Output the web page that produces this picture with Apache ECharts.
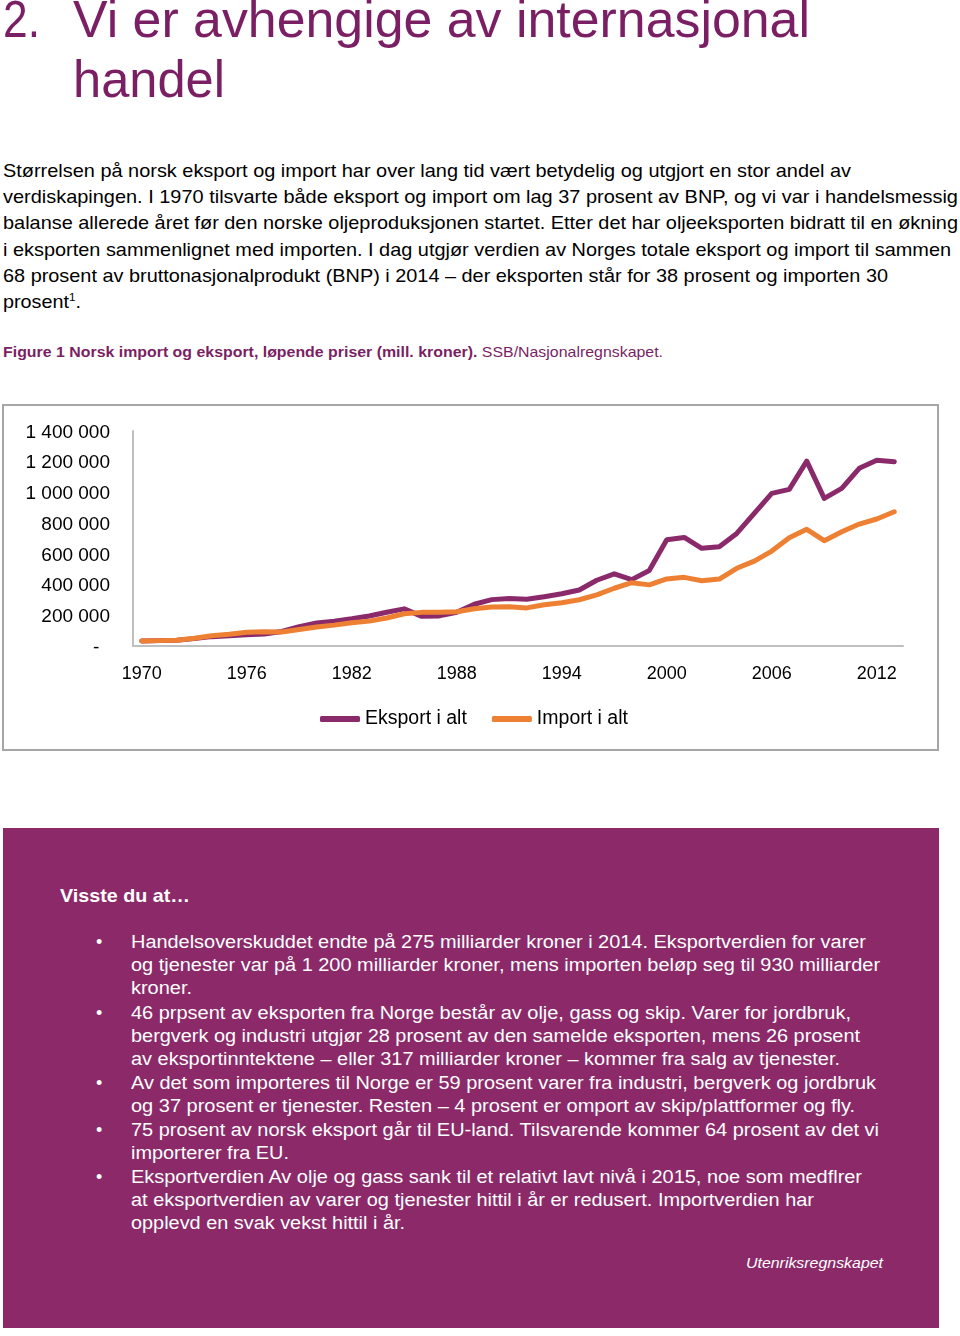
<!DOCTYPE html>
<html>
<head>
<meta charset="utf-8">
<script src="https://cdn.jsdelivr.net/npm/echarts@6/dist/echarts.min.js"></script>
<style>
  html, body { margin:0; padding:0; background:#fff; }
  body { width:960px; height:1336px; position:relative; overflow:hidden; font-family:"Liberation Sans", Arial, sans-serif; }
  .t { position:absolute; white-space:nowrap; line-height:1.15; transform-origin:0 50%; display:inline-block; }
  #box { position:absolute; left:3px; top:828px; width:936px; height:500px; background:#8c2a69; }
  #chart { position:absolute; left:0; top:400px; width:960px; height:360px; }
</style>
</head>
<body>
<div id="box"></div>
<div id="chart"></div>
<div id="texts"></div>
<script>
// ---------- data ----------
var years = ['1970','1971','1972','1973','1974','1975','1976','1977','1978','1979',
             '1980','1981','1982','1983','1984','1985','1986','1987','1988','1989',
             '1990','1991','1992','1993','1994','1995','1996','1997','1998','1999',
             '2000','2001','2002','2003','2004','2005','2006','2007','2008','2009',
             '2010','2011','2012','2013'];
var eksport = [33000, 35000, 38000, 48000, 61000, 67000, 74000, 78000, 95000, 126000,
               150000, 162000, 177000, 195000, 220000, 242000, 193000, 196000, 220000, 272000,
               302000, 310000, 304000, 321000, 340000, 365000, 428000, 470000, 432000, 492000,
               692000, 707000, 636000, 646000, 733000, 864000, 994000, 1020000, 1204000, 961000,
               1026000, 1157000, 1209000, 1200000];
var importAlt = [33000, 35000, 38000, 50000, 67000, 76000, 89000, 92000, 91000, 108000,
                 124000, 136000, 152000, 162000, 182000, 210000, 219000, 220000, 223000, 243000,
                 254000, 255000, 248000, 269000, 282000, 301000, 333000, 376000, 412000, 398000,
                 437000, 447000, 425000, 436000, 506000, 553000, 618000, 705000, 760000, 686000,
                 744000, 794000, 827000, 874000];
var seriesNames = ['Eksport i alt', 'Import i alt'];
var yMin = 0, yMax = 1400000, yStep = 200000;

// ---------- page text ----------
var purple = '#7a1f63';
var lines = [
  // [html, x, centerY, fontSize, targetWidth, color, weight, style]
  ['2.', 3, 19, 52, 37, purple, 'normal', 'normal'],
  ['Vi er avhengige av internasjonal', 73, 19, 52, 737, purple, 'normal', 'normal'],
  ['handel', 73, 79, 52, 152, purple, 'normal', 'normal'],
  ['Størrelsen på norsk eksport og import har over lang tid vært betydelig og utgjort en stor andel av', 3, 170.5, 18.6, 848, '#000', 'normal', 'normal'],
  ['verdiskapingen. I 1970 tilsvarte både eksport og import om lag 37 prosent av BNP, og vi var i handelsmessig', 3, 196.5, 18.6, 955, '#000', 'normal', 'normal'],
  ['balanse allerede året før den norske oljeproduksjonen startet. Etter det har oljeeksporten bidratt til en økning', 3, 222.5, 18.6, 955, '#000', 'normal', 'normal'],
  ['i eksporten sammenlignet med importen. I dag utgjør verdien av Norges totale eksport og import til sammen', 3, 249, 18.6, 948, '#000', 'normal', 'normal'],
  ['68 prosent av bruttonasjonalprodukt (BNP) i 2014 – der eksporten står for 38 prosent og importen 30', 3, 275, 18.6, 885, '#000', 'normal', 'normal'],
  ['prosent<sup style="font-size:11px;vertical-align:7px;line-height:0">1</sup>.', 3, 301, 18.6, 78, '#000', 'normal', 'normal'],
  ['<b>Figure 1 Norsk import og eksport, løpende priser (mill. kroner).</b> SSB/Nasjonalregnskapet.', 3, 351, 15, 660, purple, 'normal', 'normal'],
  ['Visste du at…', 60, 895, 18.5, 130, '#fff', 'bold', 'normal'],
  ['Handelsoverskuddet endte på 275 milliarder kroner i 2014. Eksportverdien for varer', 131, 942, 18, 735, '#fff', 'normal', 'normal'],
  ['og tjenester var på 1 200 milliarder kroner, mens importen beløp seg til 930 milliarder', 131, 965, 18, 749, '#fff', 'normal', 'normal'],
  ['kroner.', 131, 988, 18, 61, '#fff', 'normal', 'normal'],
  ['46 prpsent av eksporten fra Norge består av olje, gass og skip. Varer for jordbruk,', 131, 1013, 18, 720, '#fff', 'normal', 'normal'],
  ['bergverk og industri utgjør 28 prosent av den samelde eksporten, mens 26 prosent', 131, 1036, 18, 729, '#fff', 'normal', 'normal'],
  ['av eksportinntektene – eller 317 milliarder kroner – kommer fra salg av tjenester.', 131, 1059, 18, 709, '#fff', 'normal', 'normal'],
  ['Av det som importeres til Norge er 59 prosent varer fra industri, bergverk og jordbruk', 131, 1083, 18, 745, '#fff', 'normal', 'normal'],
  ['og 37 prosent er tjenester. Resten – 4 prosent er omport av skip/plattformer og fly.', 131, 1106, 18, 724, '#fff', 'normal', 'normal'],
  ['75 prosent av norsk eksport går til EU-land. Tilsvarende kommer 64 prosent av det vi', 131, 1130, 18, 748, '#fff', 'normal', 'normal'],
  ['importerer fra EU.', 131, 1153, 18, 158, '#fff', 'normal', 'normal'],
  ['Eksportverdien Av olje og gass sank til et relativt lavt nivå i 2015, noe som medflrer', 131, 1177, 18, 731, '#fff', 'normal', 'normal'],
  ['at eksportverdien av varer og tjenester hittil i år er redusert. Importverdien har', 131, 1200, 18, 683, '#fff', 'normal', 'normal'],
  ['opplevd en svak vekst hittil i år.', 131, 1223, 18, 274, '#fff', 'normal', 'normal'],
  ['Utenriksregnskapet', 746, 1262, 15, 137, '#fff', 'normal', 'italic']
];
var bulletYs = [942, 1013, 1083, 1130, 1177];

var holder = document.getElementById('texts');
function addText(html, x, cy, fs, tw, color, weight, fstyle) {
  var d = document.createElement('div');
  d.className = 't';
  d.innerHTML = html;
  d.style.left = x + 'px';
  d.style.top = (cy - 0.562 * fs) + 'px';
  d.style.fontSize = fs + 'px';
  d.style.color = color;
  d.style.fontWeight = weight;
  d.style.fontStyle = fstyle;
  holder.appendChild(d);
  if (tw) {
    var w = d.getBoundingClientRect().width;
    if (w > 0) d.style.transform = 'scaleX(' + (tw / w).toFixed(4) + ')';
  }
}
lines.forEach(function (l) { addText(l[0], l[1], l[2], l[3], l[4], l[5], l[6], l[7]); });
bulletYs.forEach(function (y) { addText('•', 96, y, 18, 0, '#fff', 'normal', 'normal'); });

// ---------- chart ----------
function fmt(v) {
  if (v === 0) return '-  ';
  return String(v).replace(/\B(?=(\d{3})+(?!\d))/g, ' ');
}
var chart = echarts.init(document.getElementById('chart'), null, { renderer: 'canvas' });
var ff = '"Liberation Sans", Arial, sans-serif';
chart.setOption({
  animation: false,
  textStyle: { fontFamily: ff },
  grid: { left: 133, right: 57, top: 31, bottom: 114, containLabel: false },
  graphic: [{
    type: 'rect', silent: true,
    shape: { x: 3, y: 5, width: 935, height: 345 },
    style: { fill: 'none', stroke: '#a6a6a6', lineWidth: 2 }
  }],
  legend: {
    left: 315, top: 304,
    icon: 'roundRect', itemWidth: 40, itemHeight: 6, itemGap: 25,
    textStyle: { fontSize: 19.5, color: '#000', fontFamily: ff },
    data: seriesNames
  },
  xAxis: {
    type: 'category', data: years, boundaryGap: true,
    axisLine: { lineStyle: { color: '#bfbfbf', width: 2 } },
    axisTick: { show: false },
    axisLabel: { interval: 5, color: '#000', fontSize: 18, margin: 19, fontFamily: ff }
  },
  yAxis: {
    type: 'value', min: yMin, max: yMax, interval: yStep,
    axisLine: { show: true, lineStyle: { color: '#bfbfbf', width: 2 } },
    axisTick: { show: false },
    splitLine: { show: false },
    axisLabel: { formatter: fmt, color: '#000', fontSize: 19, margin: 23, fontFamily: ff, verticalAlign: 'top', lineHeight: 19, padding: [-8, 0, 0, 0] }
  },
  series: [
    { name: seriesNames[0], type: 'line', data: eksport, symbol: 'none', showSymbol: false, z: 2,
      itemStyle: { color: '#8b2a6b' },
      lineStyle: { width: 5, color: '#8b2a6b', cap: 'round', join: 'round' } },
    { name: seriesNames[1], type: 'line', data: importAlt, symbol: 'none', showSymbol: false, z: 3,
      itemStyle: { color: '#ee8033' },
      lineStyle: { width: 5, color: '#ee8033', cap: 'round', join: 'round' } }
  ]
});
</script>
</body>
</html>
